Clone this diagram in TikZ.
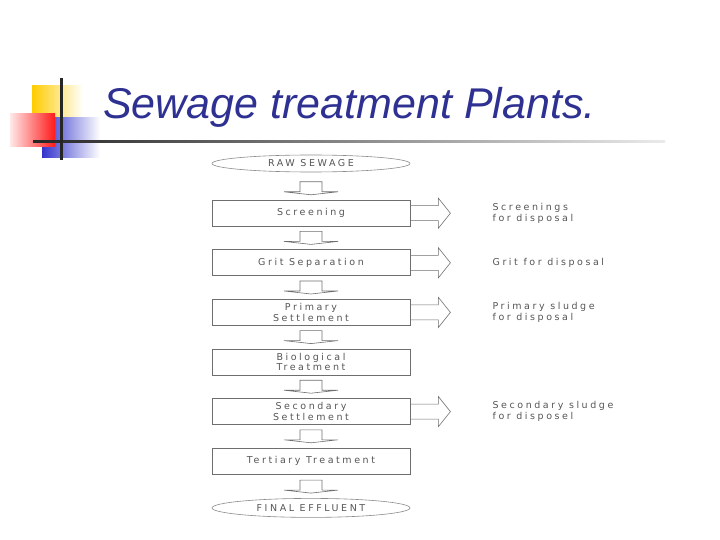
\documentclass[tikz,border=0pt]{standalone}
\usepackage{fontspec}
\usepackage{tikz}
\usetikzlibrary{shapes.geometric,positioning,calc}
\newfontfamily\titlefont{Liberation Sans}
\newfontfamily\scanfont[LetterSpace=27]{DejaVu Sans}
\definecolor{titleblue}{HTML}{2E3192}
\definecolor{decoyellow}{HTML}{FFCC00}
\definecolor{decored}{HTML}{FF1A1A}
\definecolor{decoblue}{HTML}{3333CC}
\definecolor{scangray}{HTML}{6E6E6E}
\definecolor{scantext}{HTML}{555555}

% block arrow down onto a stage
\newcommand{\downflow}[1]{%
  \draw[flow] ($(#1.north)+(-11pt,18pt)$) -- ++(0,-10pt) -- ++(-16pt,0)
    -- ($(#1.north)+(0,5pt)$) -- ($(#1.north)+(27pt,8pt)$) -- ++(-16pt,0)
    -- ++(0,10pt) -- cycle;}
% block arrow out of a stage, to the right
\newcommand{\sideflow}[1]{%
  \draw[flow] ($(#1.east)+(0,7.5pt)$) -- ++(28pt,0) -- ++(0,7.5pt)
    -- ($(#1.east)+(40pt,0)$) -- ($(#1.east)+(28pt,-15pt)$) -- ++(0,7.5pt)
    -- ($(#1.east)+(0,-7.5pt)$);}

\begin{document}
\begin{tikzpicture}[
    font=\scanfont\fontsize{9.5}{10.5}\selectfont,
    titre/.style={font=\titlefont\itshape\fontsize{43}{50}\selectfont,
      text=titleblue, inner sep=0pt},
    stage/.style={rectangle, draw=scangray, line width=0.8pt, text=scantext,
      minimum width=198pt, minimum height=26pt, inner sep=1pt, align=center},
    ends/.style={ellipse, draw=scangray!80, line width=0.6pt, text=scantext,
      minimum width=198pt, minimum height=17pt, inner sep=0pt},
    outlet/.style={anchor=west, text=scantext, inner sep=0pt, align=left},
    flow/.style={draw=scangray, line width=0.6pt}
  ]
    \useasboundingbox (0,0) rectangle (720pt,-540pt);
    % slide decoration
    \shade[left color=decoyellow, middle color=decoyellow, right color=white]
      (32pt,-86pt) rectangle (83pt,-118pt);
    \shade[left color=decoblue, middle color=decoblue, right color=white]
      (42pt,-118pt) rectangle (100pt,-158pt);
    \shade[left color=decored!10, right color=decored]
      (10pt,-114pt) rectangle (55pt,-147pt);
    \shade[left color=black!85, right color=black!8]
      (33pt,-140.5pt) rectangle (665pt,-143pt);
    \fill[black!85] (59.5pt,-78pt) rectangle (62.5pt,-160pt);
    \node[titre, anchor=base west] (title) at (103pt,-119pt) {Sewage treatment Plants.};
    % process chain
    \node[ends] (raw) at (311pt,-163.5pt) {RAW SEWAGE};
    \node[stage, below=27.5pt of raw] (screen) {Screening};
    \node[stage, below=22.8pt of screen] (grit) {Grit Separation};
    \node[stage, below=22.8pt of grit] (primary) {Primary\\Settlement};
    \node[stage, below=22.8pt of primary] (bio) {Biological\\Treatment};
    \node[stage, below=22.8pt of bio] (secondary) {Secondary\\Settlement};
    \node[stage, below=22.8pt of secondary] (tertiary) {Tertiary Treatment};
    \node[ends, below=23.5pt of tertiary, minimum height=19pt] (final) {FINAL EFFLUENT};
    \downflow{screen}
    \downflow{grit}
    \downflow{primary}
    \downflow{bio}
    \downflow{secondary}
    \downflow{tertiary}
    \downflow{final}
    % by-products
    \node[outlet, right=82pt of screen] (screenout) {Screenings\\for disposal};
    \node[outlet, right=82pt of grit] (gritout) {Grit for disposal};
    \node[outlet, right=82pt of primary] (primaryout) {Primary sludge\\for disposal};
    \node[outlet, right=82pt of secondary] (secondaryout) {Secondary sludge\\for disposel};
    \sideflow{screen}
    \sideflow{grit}
    \sideflow{primary}
    \sideflow{secondary}
  \end{tikzpicture}
\end{document}
